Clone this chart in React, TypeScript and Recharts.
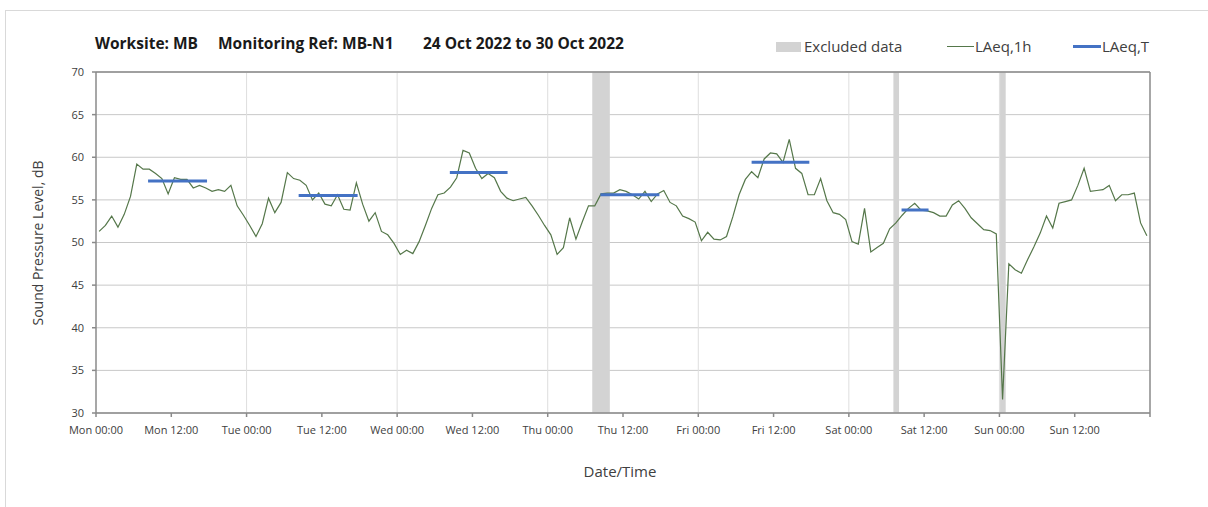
import React from 'react';
import { LineChart, Line, XAxis, YAxis, CartesianGrid, ReferenceArea, ReferenceLine } from 'recharts';

// Hourly LAeq,1h values (Mon 00:00 = hour 0), plotted at mid-hour
const laeq1h: number[] = [
  51.3, 52.0, 53.1, 51.8, 53.3, 55.4, 59.2, 58.6, 58.6, 58.1, 57.5, 55.7,
  57.6, 57.4, 57.4, 56.4, 56.7, 56.4, 56.0, 56.2, 56.0, 56.7, 54.3, 53.2,
  52.0, 50.7, 52.2, 55.2, 53.5, 54.7, 58.2, 57.5, 57.3, 56.7, 55.0, 55.8,
  54.5, 54.3, 55.6, 53.9, 53.8, 57.0, 54.5, 52.5, 53.5, 51.3, 50.9, 49.9,
  48.6, 49.1, 48.7, 50.1, 52.0, 54.0, 55.6, 55.8, 56.5, 57.6, 60.8, 60.5,
  58.7, 57.5, 58.1, 57.6, 56.0, 55.2, 54.9, 55.1, 55.3, 54.3, 53.2, 52.0,
  50.9, 48.6, 49.4, 52.9, 50.4, 52.4, 54.3, 54.3, 55.7, 55.8, 55.8, 56.2,
  56.0, 55.6, 55.1, 56.0, 54.8, 55.7, 56.1, 54.7, 54.3, 53.1, 52.8, 52.4,
  50.2, 51.2, 50.4, 50.3, 50.7, 53.0, 55.6, 57.4, 58.3, 57.6, 59.8, 60.5,
  60.4, 59.4, 62.1, 58.7, 58.1, 55.6, 55.6, 57.5, 54.9, 53.5, 53.3, 52.7,
  50.1, 49.8, 54.0, 48.9, 49.4, 49.9, 51.6, 52.3, 53.2, 54.0, 54.6, 53.8,
  53.7, 53.5, 53.1, 53.1, 54.4, 54.9, 54.0, 52.9, 52.2, 51.5, 51.4, 51.0,
  31.6, 47.5, 46.8, 46.4, 48.0, 49.5, 51.1, 53.1, 51.7, 54.6, 54.8, 55.0,
  56.7, 58.7, 56.0, 56.1, 56.2, 56.7, 54.9, 55.6, 55.6, 55.8, 52.3, 50.8,
];

// LAeq,T period levels: start hour, end hour, level
const periodStart: number[] = [8.3, 32.3, 56.4, 80.4, 104.5, 128.4];
const periodEnd: number[] = [17.7, 41.7, 65.6, 89.8, 113.7, 132.7];
const periodLevel: number[] = [57.2, 55.5, 58.2, 55.6, 59.4, 53.8];

// Excluded data bands (hours)
const excludedStart: number[] = [79.1, 127.1, 144.1];
const excludedEnd: number[] = [81.9, 128.0, 145.0];

const xTicks: number[] = [0, 12, 24, 36, 48, 60, 72, 84, 96, 108, 120, 132, 144, 156, 168];
const xTickLabels: string[] = [
  'Mon 00:00', 'Mon 12:00', 'Tue 00:00', 'Tue 12:00', 'Wed 00:00', 'Wed 12:00', 'Thu 00:00',
  'Thu 12:00', 'Fri 00:00', 'Fri 12:00', 'Sat 00:00', 'Sat 12:00', 'Sun 00:00', 'Sun 12:00', '',
];
const dayLines: number[] = [24, 48, 72, 96, 120, 144];
const yTicks: number[] = [30, 35, 40, 45, 50, 55, 60, 65, 70];

const hourlyData = laeq1h.map((v, i) => ({ x: i + 0.5, y: v }));
const periodData: { x: number; y: number | null }[] = [];
periodStart.forEach((s, i) => {
  periodData.push({ x: s, y: periodLevel[i] });
  periodData.push({ x: periodEnd[i], y: periodLevel[i] });
  periodData.push({ x: periodEnd[i] + 0.05, y: null });
});

const FONT = '"Open Sans", "DejaVu Sans", sans-serif';
const TEXT = '#404040';

export default function App() {
  return (
    <div style={{ position: 'absolute', left: 0, top: 0, width: 1208, height: 507, background: '#fff', fontFamily: FONT, overflow: 'hidden' }}>
      <div style={{ position: 'absolute', left: 5, top: 10, width: 1210, height: 510, border: '1px solid #d9d9d9' }} />
      <LineChart
        width={1208}
        height={507}
        margin={{ top: 72, right: 58, bottom: 64, left: 0 }}
        style={{ position: 'absolute', left: 0, top: 0 }}
      >
        <CartesianGrid vertical={false} stroke="#c8c8c8" strokeWidth={1} />
        {dayLines.map((d) => (
          <ReferenceLine key={'d' + d} x={d} stroke="#dedede" strokeWidth={1} ifOverflow="hidden" />
        ))}
        {excludedStart.map((s, i) => (
          <ReferenceArea key={'e' + i} x1={s} x2={excludedEnd[i]} y1={30} y2={70} fill="#d3d3d3" fillOpacity={1} stroke="none" />
        ))}
        <XAxis
          type="number"
          dataKey="x"
          domain={[0, 168]}
          ticks={xTicks}
          allowDataOverflow
          tickFormatter={(v: number) => xTickLabels[xTicks.indexOf(v)] ?? ''}
          stroke="#8a8a8a"
          strokeWidth={1.5}
          tickSize={4}
          tickMargin={9}
          tick={{ fill: TEXT, fontSize: 11, fontFamily: FONT }}
          interval={0}
        />
        <YAxis
          type="number"
          domain={[30, 70]}
          ticks={yTicks}
          width={96}
          stroke="#8a8a8a"
          strokeWidth={1.5}
          tickSize={4}
          tickMargin={8}
          tick={{ fill: TEXT, fontSize: 11, fontFamily: FONT }}
        />
        <ReferenceLine y={70} stroke="#8a8a8a" strokeWidth={1.5} />
        <ReferenceLine x={168} stroke="#8a8a8a" strokeWidth={1.5} />
        <Line
          data={hourlyData}
          dataKey="y"
          type="linear"
          stroke="#55774a"
          strokeWidth={1.2}
          dot={false}
          isAnimationActive={false}
        />
        <Line
          data={periodData}
          dataKey="y"
          type="linear"
          stroke="#4472c4"
          strokeWidth={3}
          dot={false}
          connectNulls={false}
          isAnimationActive={false}
        />
      </LineChart>

      <div style={{ position: 'absolute', left: 95, top: 32, fontSize: 15.5, fontWeight: 700, color: '#1a1a1a', whiteSpace: 'pre' }}>Worksite: MB</div>
      <div style={{ position: 'absolute', left: 218, top: 32, fontSize: 15.5, fontWeight: 700, color: '#1a1a1a', whiteSpace: 'pre' }}>Monitoring Ref: MB-N1</div>
      <div style={{ position: 'absolute', left: 423, top: 32, fontSize: 15.5, fontWeight: 700, color: '#1a1a1a', whiteSpace: 'pre' }}>24 Oct 2022 to 30 Oct 2022</div>

      <div style={{ position: 'absolute', left: 776, top: 42, width: 25, height: 10, background: '#d3d3d3' }} />
      <div style={{ position: 'absolute', left: 804, top: 36, fontSize: 15, color: TEXT, whiteSpace: 'pre' }}>Excluded data</div>
      <div style={{ position: 'absolute', left: 947, top: 46, width: 27, height: 1, background: '#55774a' }} />
      <div style={{ position: 'absolute', left: 975, top: 36, fontSize: 15, color: TEXT, whiteSpace: 'pre' }}>LAeq,1h</div>
      <div style={{ position: 'absolute', left: 1073, top: 45, width: 28, height: 3, background: '#4472c4' }} />
      <div style={{ position: 'absolute', left: 1102, top: 36, fontSize: 15, color: TEXT, whiteSpace: 'pre' }}>LAeq,T</div>

      <div style={{ position: 'absolute', left: 37, top: 243, transform: 'translate(-50%, -50%) rotate(-90deg)', fontSize: 14, color: TEXT, whiteSpace: 'pre' }}>
        Sound Pressure Level, dB
      </div>
      <div style={{ position: 'absolute', left: 620, top: 471, transform: 'translate(-50%, -50%)', fontSize: 15, color: TEXT, whiteSpace: 'pre' }}>
        Date/Time
      </div>
    </div>
  );
}
